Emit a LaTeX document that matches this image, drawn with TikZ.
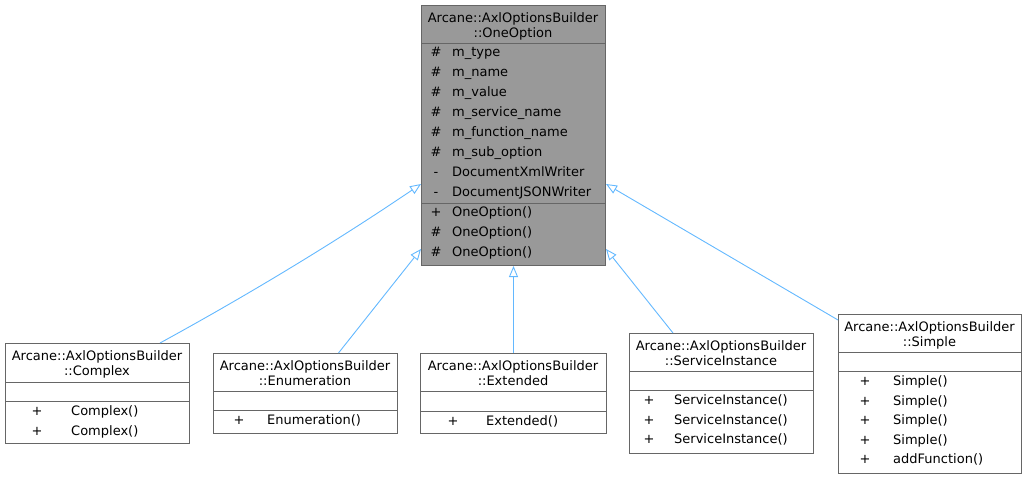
\documentclass[tikz,border=0pt]{standalone}
\usepackage{fontspec}
\setmainfont{DejaVu Sans}
\usetikzlibrary{arrows.meta}
\definecolor{edgeblue}{HTML}{63B8FF}
\definecolor{boxgrey}{HTML}{999999}
\definecolor{bordergrey}{HTML}{666666}
\tikzset{
  cls/.style={draw=bordergrey, line width=1pt, fill=white, inner sep=0pt, anchor=north west},
  sepline/.style={draw=bordergrey, line width=1pt},
  ttl/.style={inner sep=0pt, anchor=base, font=\fontsize{13}{15}\selectfont},
  vis/.style={inner sep=0pt, anchor=base, font=\fontsize{13}{15}\selectfont},
  mem/.style={inner sep=0pt, anchor=base west, font=\fontsize{13}{15}\selectfont},
  inherit/.style={draw=edgeblue, line width=0.9pt, -{Triangle[open, length=11pt, width=9pt]}},
}
\begin{document}
\begin{tikzpicture}[x=1pt,y=-1pt]
\useasboundingbox (0,0) rectangle (1027,479);

% ---- base class OneOption
\node[cls, fill=boxgrey, minimum width=184pt, minimum height=260pt] (oo) at (421,5) {};
\draw[sepline] (421,43) -- (605,43);
\draw[sepline] (421,203) -- (605,203);
\node[ttl] (ooT1) at (513,22.5) {Arcane::AxlOptionsBuilder};
\node[ttl] (ooT2) at (513,37.5) {::OneOption};
\foreach \v/\t [count=\i] in {\#/m\_type, \#/m\_name, \#/m\_value, \#/m\_service\_name, \#/m\_function\_name, \#/m\_sub\_option, -/DocumentXmlWriter, -/DocumentJSONWriter, +/OneOption(), \#/OneOption(), \#/OneOption()} {
  \node[vis] (oov\i) at (436,36.5+20*\i) {\v};
  \node[mem] (oom\i) at (452,36.5+20*\i) {\t};
}

% ---- Complex
\node[cls, minimum width=184pt, minimum height=100pt] (cx) at (5,343) {};
\draw[sepline] (5,382) -- (189,382);
\draw[sepline] (5,401) -- (189,401);
\node[ttl] (cxT1) at (97,360.5) {Arcane::AxlOptionsBuilder};
\node[ttl] (cxT2) at (97,375.5) {::Complex};
\foreach \i in {1,2} {
  \node[vis] (cxv\i) at (37,396+19.5*\i) {+};
  \node[mem] (cxm\i) at (71,396+19.5*\i) {Complex()};
}

% ---- Enumeration
\node[cls, minimum width=184pt, minimum height=80pt] (en) at (213,353) {};
\draw[sepline] (213,391) -- (397,391);
\draw[sepline] (213,410) -- (397,410);
\node[ttl] (enT1) at (305,370.5) {Arcane::AxlOptionsBuilder};
\node[ttl] (enT2) at (305,385.5) {::Enumeration};
\node[vis] (env1) at (239,424.5) {+};
\node[mem] (enm1) at (267,424.5) {Enumeration()};

% ---- Extended
\node[cls, minimum width=186pt, minimum height=80pt] (ex) at (420,353) {};
\draw[sepline] (420,391) -- (606,391);
\draw[sepline] (420,411) -- (606,411);
\node[ttl] (exT1) at (513,370.5) {Arcane::AxlOptionsBuilder};
\node[ttl] (exT2) at (513,385.5) {::Extended};
\node[vis] (exv1) at (453,425) {+};
\node[mem] (exm1) at (486,425) {Extended()};

% ---- ServiceInstance
\node[cls, minimum width=184pt, minimum height=120pt] (si) at (629,333) {};
\draw[sepline] (629,371) -- (813,371);
\draw[sepline] (629,390) -- (813,390);
\node[ttl] (siT1) at (721,350.5) {Arcane::AxlOptionsBuilder};
\node[ttl] (siT2) at (721,365.5) {::ServiceInstance};
\foreach \i in {1,2,3} {
  \node[vis] (siv\i) at (649,385+19.5*\i) {+};
  \node[mem] (sim\i) at (674,385+19.5*\i) {ServiceInstance()};
}

% ---- Simple
\node[cls, minimum width=183pt, minimum height=159pt] (sp) at (838,314) {};
\draw[sepline] (838,352) -- (1021,352);
\draw[sepline] (838,371) -- (1021,371);
\node[ttl] (spT1) at (929.5,331.5) {Arcane::AxlOptionsBuilder};
\node[ttl] (spT2) at (929.5,346.5) {::Simple};
\foreach \t [count=\i] in {Simple(), Simple(), Simple(), Simple(), addFunction()} {
  \node[vis] (spv\i) at (865,366+19.5*\i) {+};
  \node[mem] (spm\i) at (893,366+19.5*\i) {\t};
}

% ---- inheritance edges
\draw[inherit] ([xshift=-30pt]cx.north east) .. controls (246,296) and (334,243) .. ([yshift=-179pt]oo.north west);
\draw[inherit] ([xshift=33pt]en.north) -- ([yshift=-244pt]oo.north west);
\draw[inherit] (ex.north) -- (oo.south);
\draw[inherit] ([xshift=44pt]si.north west) -- ([yshift=-244pt]oo.north east);
\draw[inherit] ([yshift=-6pt]sp.north west) -- ([yshift=-179pt]oo.north east);
\end{tikzpicture}
\end{document}
